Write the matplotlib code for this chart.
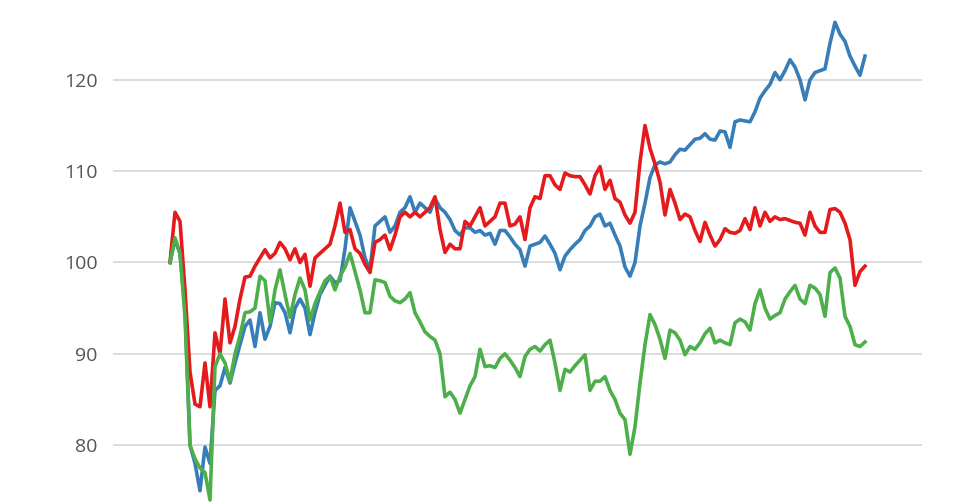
import numpy as np
import matplotlib.pyplot as plt

# weekly index values (start = 100)
blue = [100, 102.5, 101, 95, 80, 78, 75, 79.8, 78, 86,
        86.5, 88.5, 86.8, 89, 91, 93, 93.7, 90.8, 94.5, 91.6,
        93, 95.6, 95.5, 94.5, 92.3, 95, 96, 95, 92.1, 94.5,
        96.5, 97.5, 98.5, 97.8, 98, 101.5, 106, 104.5, 103, 100.5,
        99.2, 104, 104.5, 105, 103.3, 104, 105.5, 106, 107.2, 105.5,
        106.5, 106, 105.5, 107, 106, 105.5, 104.7, 103.5, 103, 103.8,
        103.8, 103.3, 103.5, 103, 103.2, 102, 103.5, 103.5, 102.8, 102,
        101.4, 99.6, 101.8, 102, 102.2, 102.9, 102, 101, 99.2, 100.7,
        101.4, 102, 102.5, 103.5, 104, 105, 105.3, 104, 104.3, 103,
        101.8, 99.5, 98.5, 100, 104, 106.5, 109.3, 110.7, 111, 110.8,
        111, 111.8, 112.4, 112.3, 112.9, 113.5, 113.6, 114.1, 113.5, 113.4,
        114.4, 114.3, 112.6, 115.4, 115.6, 115.5, 115.4, 116.5, 118, 118.8,
        119.5, 120.8, 120, 121, 122.2, 121.4, 120, 117.8, 120, 120.8,
        121, 121.2, 124, 126.3, 125, 124.2, 122.6, 121.5, 120.5, 122.6]

red = [100, 105.5, 104.5, 97, 88, 84.5, 84.2, 89, 84.2, 92.3,
       90, 96, 91.2, 93, 96, 98.4, 98.5, 99.6, 100.5, 101.4,
       100.5, 101, 102.2, 101.5, 100.3, 101.5, 100, 100.9, 97.4, 100.5,
       101, 101.5, 102, 104, 106.5, 103.3, 103.6, 101.5, 101, 99.8,
       98.9, 102.2, 102.5, 103, 101.4, 103, 105, 105.5, 105, 105.5,
       105, 105.5, 106, 107.2, 103.6, 101.1, 102, 101.5, 101.5, 104.5,
       104, 105, 106, 104, 104.5, 105, 106.5, 106.5, 104, 104.2,
       105, 102.5, 106, 107.2, 107, 109.5, 109.5, 108.5, 108, 109.8,
       109.5, 109.4, 109.4, 108.5, 107.5, 109.5, 110.5, 108, 109, 107,
       106.6, 105.2, 104.3, 105.5, 111, 115, 112.5, 110.8, 108.8, 105.2,
       108, 106.5, 104.7, 105.3, 105, 103.5, 102.3, 104.4, 103, 101.8,
       102.5, 103.7, 103.3, 103.2, 103.5, 104.8, 103.6, 106, 104, 105.5,
       104.5, 105, 104.7, 104.8, 104.6, 104.4, 104.3, 103, 105.5, 104,
       103.3, 103.3, 105.8, 105.9, 105.5, 104.3, 102.5, 97.5, 99, 99.6]

green = [100, 102.7, 101, 94, 80, 78.5, 77.5, 77, 74, 88.6,
         90, 89, 87, 90, 92, 94.5, 94.6, 95, 98.5, 98,
         93.5, 97, 99.2, 96.5, 94, 96.5, 98.3, 97, 93.7, 95.5,
         96.8, 98, 98.5, 97, 98.5, 99.5, 101, 99, 97, 94.5,
         94.5, 98.1, 98, 97.8, 96.3, 95.8, 95.6, 96, 96.7, 94.5,
         93.5, 92.4, 91.9, 91.5, 90, 85.3, 85.8, 85, 83.5, 85,
         86.5, 87.5, 90.5, 88.6, 88.7, 88.5, 89.5, 90, 89.3, 88.5,
         87.5, 89.7, 90.5, 90.8, 90.3, 91, 91.5, 89, 86, 88.3,
         88, 88.7, 89.3, 89.9, 86, 87, 87, 87.5, 86, 85,
         83.5, 82.8, 79, 82, 86.8, 91, 94.3, 93.2, 91.6, 89.5,
         92.6, 92.3, 91.5, 89.9, 90.8, 90.5, 91.2, 92.2, 92.8, 91.2,
         91.5, 91.2, 91, 93.4, 93.8, 93.5, 92.6, 95.5, 97, 95,
         93.8, 94.2, 94.5, 96, 96.8, 97.5, 96, 95.5, 97.5, 97.2,
         96.5, 94.1, 98.9, 99.4, 98.3, 94.1, 93, 91, 90.8, 91.3]

yticks = [80, 90, 100, 110, 120, 130]

fig = plt.figure(figsize=(9.62, 5.03), dpi=100)
ax = fig.add_axes([113 / 962, -0.0666, 809 / 962, 1.0895])

n = len(blue)
x = np.arange(n)
pad = 57 / 695 * (n - 1)

ax.plot(x, blue, color='#377eb8', lw=2.6, solid_joinstyle='round')
ax.plot(x, red, color='#e41a1c', lw=2.6, solid_joinstyle='round')
ax.plot(x, green, color='#4daf4a', lw=2.6, solid_joinstyle='round')

ax.set_xlim(-pad, n - 1 + pad)
ax.set_ylim(70, 130)
ax.set_yticks(yticks)
ax.set_yticklabels([str(t) for t in yticks], fontsize=14, color='#555555',
                   family=['Open Sans', 'DejaVu Sans'])
ax.set_xticks([])
ax.tick_params(axis='y', length=0, pad=11)
ax.grid(axis='y', color='#dcdcdc', lw=1.4)
ax.set_axisbelow(True)
for s in ax.spines.values():
    s.set_visible(False)

fig.savefig('out.png', dpi=100)
